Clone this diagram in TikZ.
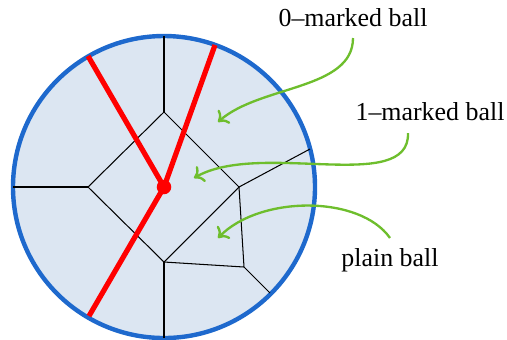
\documentclass[tikz,border=0pt]{standalone}
\usepackage{fontspec}
\setmainfont{Liberation Serif}
\usetikzlibrary{arrows.meta}

\definecolor{ballfill}{RGB}{220,230,242}
\definecolor{ballline}{RGB}{30,105,205}
\definecolor{pointer}{RGB}{110,190,45}

\begin{document}
\begin{tikzpicture}[
  x=0.386pt, y=-0.386pt,
  ball/.style={draw=ballline, fill=ballfill, line width=1.7pt},
  wall/.style={draw=black, line width=0.4pt},
  redline/.style={draw=red, line width=2pt},
  dot/.style={circle, fill=red, inner sep=0pt, minimum size=5.6pt},
  ptr/.style={-{To[length=3.5pt,width=7pt]}, draw=pointer, line width=0.9pt},
  lbl/.style={inner sep=0pt, anchor=base},
]
\useasboundingbox (0,0) rectangle (507,339);

% the ball
\draw[ball] (164,187) circle[radius=151];

% cells
\coordinate (dt) at (164,112);
\coordinate (dl) at (88,187);
\coordinate (db) at (164,262);
\coordinate (dr) at (239,187);
\coordinate (q)  at (244,267);
\coordinate (et) at (164,36);
\coordinate (el) at (13,187);
\coordinate (eb) at (164,338);
\coordinate (er) at (310,149);
\coordinate (ebr) at (270,293);

\draw[wall] (dt) -- (dr) -- (db) -- (dl) -- cycle;
\draw[wall] (et) -- (dt) (el) -- (dl) (eb) -- (db);
\draw[wall] (er) -- (dr) -- (q) -- (db) (q) -- (ebr);

% marked tree
\node[dot] (o) at (164,187) {};
\coordinate (r1) at (88,56);
\coordinate (r2) at (215,45);
\coordinate (r3) at (89,316);
\draw[redline] (r1) -- (o.center) (r2) -- (o.center) -- (r3);

% labels
\node[lbl] (l0) at (353,26) {0–marked ball};
\node[lbl] (l1) at (430,120) {1–marked ball};
\node[lbl] (lp) at (390,266) {plain ball};

% pointers
\coordinate (s0) at (353,38);  \coordinate (t0) at (218,122);
\coordinate (s1) at (408,133); \coordinate (t1) at (194,178);
\coordinate (sp) at (390,238); \coordinate (tp) at (218,238);
\draw[ptr] (s0) .. controls (353,90) and (260,85) .. (t0);
\draw[ptr] (s1) .. controls (410,195) and (260,140) .. (t1);
\draw[ptr] (sp) .. controls (360,195) and (260,195) .. (tp);

\end{tikzpicture}
\end{document}
